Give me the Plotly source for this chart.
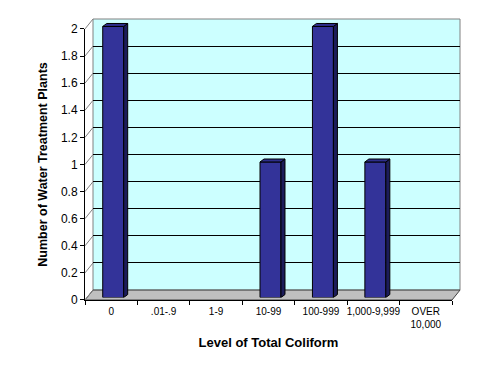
import plotly.graph_objects as go

# ---- data ----
categories = ["0", ".01-.9", "1-9", "10-99", "100-999", "1,000-9,999", "OVER<br>10,000"]
plants = [2, 0, 0, 1, 2, 1, 0]
y_ticks = [0, 0.2, 0.4, 0.6, 0.8, 1, 1.2, 1.4, 1.6, 1.8, 2]
y_tick_text = ["0", "0.2", "0.4", "0.6", "0.8", "1", "1.2", "1.4", "1.6", "1.8", "2"]

# ---- geometry (pixels) ----
W, H = 491, 374
ML, MR, MT, MB = 85, 31, 17, 74
PW, PH = W - ML - MR, H - MT - MB          # 375 x 283
DEPTH_X, DEPTH_Y = 8, 10                    # back wall offset
FRONT_W, FRONT_H = PW - DEPTH_X, PH - DEPTH_Y
BAR_SHIFT_X, BAR_SHIFT_Y = 2, 2.5           # bar front face depth
BAR_DX, BAR_DY = 4, 3                       # bar depth
N = len(categories)
cat_px = FRONT_W / N
y_px = FRONT_H / 2.0

BLUE = "#333399"
SIDE = "#1c1c5a"
TOP = "#2e2e8c"

fig = go.Figure()

# back wall grid carrier
fig.add_trace(go.Scatter(x=[0], y=[None], xaxis="x2", yaxis="y2", mode="markers",
                         hoverinfo="skip", showlegend=False))

# front bar faces
xs = list(range(N))
fig.add_trace(go.Bar(x=xs, y=plants, xaxis="x3", yaxis="y3", width=0.4,
                     marker=dict(color=BLUE,
                                 line=dict(color="black", width=[1 if v > 0 else 0 for v in plants])),
                     hoverinfo="skip", showlegend=False))

# side and top faces computed from the data
dx = BAR_DX / cat_px
dy = BAR_DY / y_px
sx, sy, tx, ty = [], [], [], []
for i, v in enumerate(plants):
    if v <= 0:
        continue
    l, r = i - 0.2, i + 0.2
    sx += [r, r + dx, r + dx, r, r, None]
    sy += [0, dy, v + dy, v, 0, None]
    tx += [l, l + dx, r + dx, r, l, None]
    ty += [v, v + dy, v + dy, v, v, None]
fig.add_trace(go.Scatter(x=sx, y=sy, xaxis="x3", yaxis="y3", mode="lines", fill="toself",
                         fillcolor=SIDE, line=dict(color="black", width=1),
                         hoverinfo="skip", showlegend=False))
fig.add_trace(go.Scatter(x=tx, y=ty, xaxis="x3", yaxis="y3", mode="lines", fill="toself",
                         fillcolor=TOP, line=dict(color="black", width=1),
                         hoverinfo="skip", showlegend=False))

# dummy trace for front category axis
fig.add_trace(go.Scatter(x=categories, y=[None] * N, mode="markers",
                         hoverinfo="skip", showlegend=False))

font = "Arial, 'Liberation Sans', sans-serif"

shapes = []
# back wall
shapes.append(dict(type="rect", xref="paper", yref="paper",
                   x0=DEPTH_X / PW, x1=1, y0=DEPTH_Y / PH, y1=1,
                   fillcolor="#ccffff", line=dict(color="#808080", width=1), layer="below"))
# floor
fx0, fx1 = 0, FRONT_W / PW
bx0, bx1 = DEPTH_X / PW, 1
by = DEPTH_Y / PH
shapes.append(dict(type="path", xref="paper", yref="paper",
                   path=f"M {fx0},0 L {fx1},0 L {bx1},{by} L {bx0},{by} Z",
                   fillcolor="#c0c0c0", line=dict(color="#404040", width=1), layer="below"))
# left-wall diagonals at ticks
for t in y_ticks:
    yf = t * y_px / PH
    yb = (t * y_px + DEPTH_Y) / PH
    shapes.append(dict(type="line", xref="paper", yref="paper",
                       x0=0, y0=yf, x1=DEPTH_X / PW, y1=yb,
                       line=dict(color="#808080", width=1), layer="below"))

fig.update_layout(
    width=W, height=H,
    margin=dict(l=ML, r=MR, t=MT, b=MB, pad=0),
    paper_bgcolor="white", plot_bgcolor="rgba(0,0,0,0)",
    font=dict(family=font, color="black"),
    shapes=shapes,
    xaxis=dict(domain=[0, FRONT_W / PW], type="category", range=[-0.5, N - 0.5], anchor="y",
               showline=True, linecolor="black", linewidth=1, mirror=False,
               ticks="outside", ticklen=4, tickcolor="black", tickson="boundaries",
               showgrid=False, zeroline=False, tickfont=dict(size=10), tickangle=0,
               ticklabelstandoff=2,
               title=dict(text="<b>Level of Total Coliform</b>", font=dict(size=13), standoff=8),
               fixedrange=True),
    yaxis=dict(domain=[0, FRONT_H / PH], range=[0, 2], tickvals=y_ticks, ticktext=y_tick_text,
               anchor="x",
               showline=True, linecolor="black", linewidth=1,
               ticks="outside", ticklen=4, tickcolor="black",
               showgrid=False, zeroline=False, tickfont=dict(size=12),
               title=dict(text="<b>Number of Water Treatment Plants</b>", font=dict(size=12.5), standoff=10),
               fixedrange=True),
    # back wall axes (gridlines)
    xaxis2=dict(domain=[DEPTH_X / PW, 1], range=[-0.5, N - 0.5], anchor="y2",
                visible=False, fixedrange=True),
    yaxis2=dict(domain=[DEPTH_Y / PH, 1], range=[0, 2], anchor="x2",
                tickvals=y_ticks, showticklabels=False, ticks="",
                showgrid=True, gridcolor="black", gridwidth=1, zeroline=False, showline=False,
                fixedrange=True),
    # bar axes
    xaxis3=dict(domain=[BAR_SHIFT_X / PW, 1], range=[-0.5, -0.5 + (PW - BAR_SHIFT_X) / cat_px],
                anchor="y3", visible=False, fixedrange=True),
    yaxis3=dict(domain=[BAR_SHIFT_Y / PH, 1], range=[0, (PH - BAR_SHIFT_Y) / y_px],
                anchor="x3", visible=False, fixedrange=True),
)

fig.write_html("out.html")
